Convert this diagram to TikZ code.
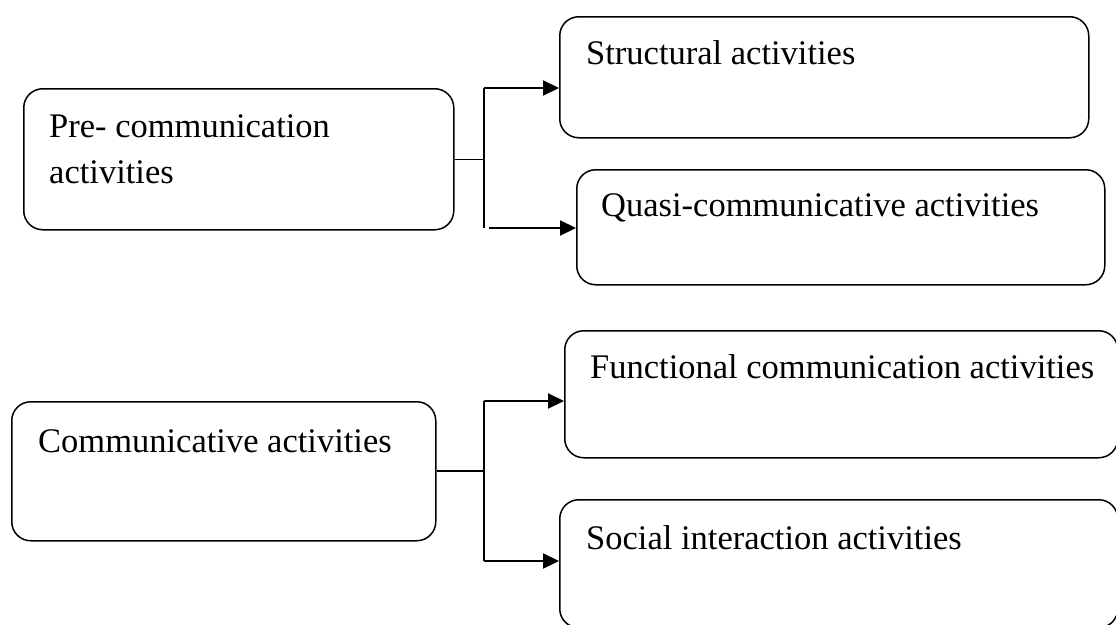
\documentclass[tikz,border=0pt]{standalone}
\usepackage{fontspec}
\setmainfont{Liberation Serif}
\usetikzlibrary{arrows.meta}
\begin{document}
\begin{tikzpicture}[x=1pt,y=-1pt,
  actbox/.style={draw,line width=1.5pt,rounded corners=19pt,anchor=north west,inner sep=0pt},
  acttext/.style={anchor=base west,inner sep=0pt,align=left,font=\fontsize{34.5}{46}\selectfont},
  link/.style={line width=1.8pt},
  linkarrow/.style={line width=2.2pt,-{Triangle[length=16pt,width=15pt]}}]
\useasboundingbox (0,0) rectangle (1116,624);
% upper group
\node[actbox,minimum width=430pt,minimum height=141pt] (pre) at (23,88) {};
\node[actbox,minimum width=529pt,minimum height=121pt] (struct) at (559,16) {};
\node[actbox,minimum width=528pt,minimum height=115pt] (quasi) at (576,169) {};
\node[acttext] (pretxt) at (49,183) {Pre- communication\\activities};
\node[acttext] (structtxt) at (586,64) {Structural activities};
\node[acttext] (quasitxt) at (601,216) {Quasi-communicative activities};
% lower group
\node[actbox,minimum width=424pt,minimum height=139pt] (comm) at (11,401) {};
\node[actbox,minimum width=553pt,minimum height=127pt] (func) at (564,330) {};
\node[actbox,minimum width=558pt,minimum height=128pt] (social) at (559,499) {};
\node[acttext] (commtxt) at (38,452) {Communicative activities};
\node[acttext] (functxt) at (590,378) {Functional communication activities};
\node[acttext] (socialtxt) at (586,549) {Social interaction activities};
% connectors
\coordinate (ptop) at (484,88);
\coordinate (pbot) at (484,228);
\coordinate (ctop) at (484,401);
\coordinate (cbot) at (484,561);
\draw[line width=1.2pt] (pre.east) -- (pre.east -| ptop);
\draw[link] (ptop) -- (pbot);
\draw[linkarrow] (ptop) -- (ptop -| struct.west);
\draw[linkarrow,shorten <=5pt] (pbot) -- (pbot -| quasi.west);
\draw[link] (comm.east) -- (comm.east -| ctop);
\draw[link] (ctop) -- (cbot);
\draw[linkarrow] (ctop) -- (ctop -| func.west);
\draw[linkarrow] (cbot) -- (cbot -| social.west);
\end{tikzpicture}
\end{document}
